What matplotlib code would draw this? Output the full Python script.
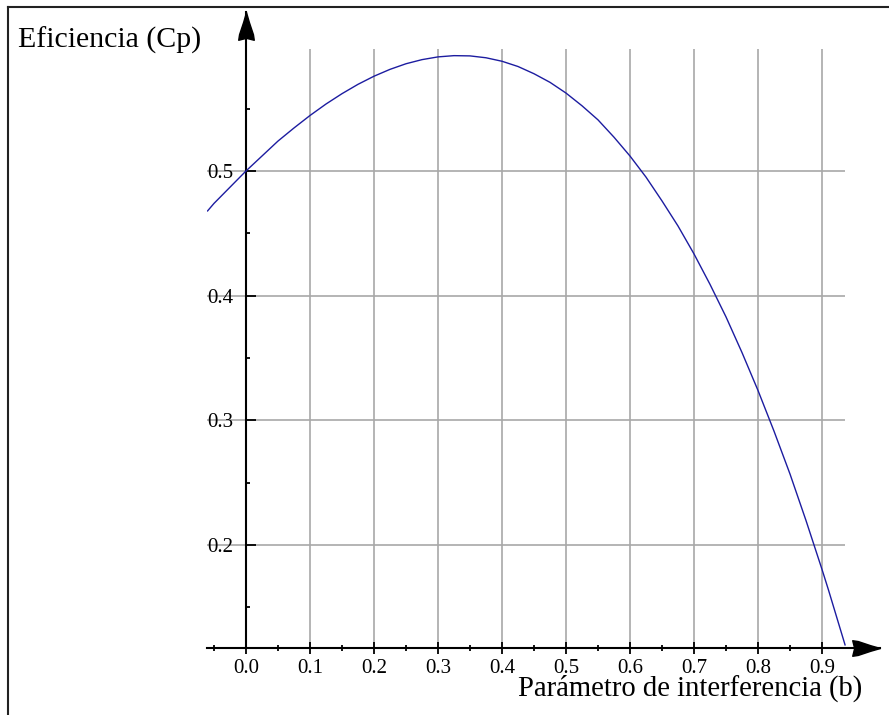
import numpy as np
import matplotlib.pyplot as plt
from matplotlib.lines import Line2D
from matplotlib.ticker import FixedLocator

# values
b_values = [-0.06, -0.05, -0.025, 0.0, 0.025, 0.05, 0.075, 0.1, 0.125, 0.15,
            0.175, 0.2, 0.225, 0.25, 0.275, 0.3, 0.325, 0.35, 0.375, 0.4,
            0.425, 0.45, 0.475, 0.5, 0.525, 0.55, 0.575, 0.6, 0.625, 0.65,
            0.675, 0.7, 0.725, 0.75, 0.775, 0.8, 0.825, 0.85, 0.875, 0.9,
            0.91, 0.936]
cp_values = [0.468, 0.474, 0.487, 0.500, 0.512, 0.524, 0.5345, 0.5445, 0.5537,
             0.562, 0.5695, 0.576, 0.5815, 0.586, 0.5893, 0.5915, 0.5925,
             0.5923, 0.5908, 0.588, 0.5838, 0.578, 0.5711, 0.5625, 0.5523,
             0.541, 0.5271, 0.512, 0.4951, 0.476, 0.4559, 0.4335, 0.4091,
             0.383, 0.3544, 0.324, 0.2914, 0.257, 0.2197, 0.1805, 0.1642,
             0.120]

x_ticks = [0.0, 0.1, 0.2, 0.3, 0.4, 0.5, 0.6, 0.7, 0.8, 0.9]
x_tick_labels = ["0.0", "0.1", "0.2", "0.3", "0.4", "0.5", "0.6", "0.7", "0.8", "0.9"]
y_ticks = [0.2, 0.3, 0.4, 0.5]
y_tick_labels = ["0.2", "0.3", "0.4", "0.5"]

y_label = "Eficiencia (Cp)"
x_label = "Parámetro de interferencia (b)"

SERIF = ["Liberation Serif", "DejaVu Serif"]
W, H = 889, 715


def main():
    fig = plt.figure(figsize=(W / 100, H / 100), dpi=100)
    ax = fig.add_axes([207 / W, (H - 648) / H, 673 / W, 636 / H])

    xmin, xmax = -0.0609, 0.9906
    ymin, ymax = 0.1175, 0.6275
    ax.set_xlim(xmin, xmax)
    ax.set_ylim(ymin, ymax)

    # grid
    grid_kw = dict(color="#a8a8a8", lw=1.2, zorder=1)
    ax.hlines(y_ticks, xmin, 0.936, **grid_kw)
    ax.vlines(x_ticks[1:], ymin, 0.598, **grid_kw)

    ax.plot(b_values, cp_values, color="#1c1ca0", lw=1.0, zorder=3)

    # axes like maple: y axis through b = 0
    for side in ("top", "right"):
        ax.spines[side].set_visible(False)
    ax.spines["left"].set_position(("data", 0))
    ax.spines["left"].set_linewidth(1.5)
    ax.spines["bottom"].set_linewidth(1.5)

    ax.xaxis.set_major_locator(FixedLocator(x_ticks))
    ax.set_xticklabels(x_tick_labels, family=SERIF, fontsize=15)
    ax.xaxis.set_minor_locator(FixedLocator([-0.05, 0.05, 0.15, 0.25, 0.35, 0.45,
                                             0.55, 0.65, 0.75, 0.85]))
    ax.yaxis.set_major_locator(FixedLocator(y_ticks))
    ax.set_yticklabels(y_tick_labels, family=SERIF, fontsize=15)
    ax.yaxis.set_minor_locator(FixedLocator([0.15, 0.25, 0.35, 0.45, 0.55]))

    ax.tick_params(axis="x", which="major", direction="inout", length=8, width=1.3, pad=4)
    ax.tick_params(axis="x", which="minor", direction="inout", length=5, width=1.3)
    ax.tick_params(axis="y", which="major", direction="in", length=7, width=1.3, pad=9)
    ax.tick_params(axis="y", which="minor", direction="in", length=3, width=1.3)

    # arrow heads
    up = [(0, 0), (-0.1, -0.35), (-0.25, -0.8), (-0.28, -1.0), (0, -0.93),
          (0.28, -1.0), (0.25, -0.8), (0.1, -0.35), (0, 0)]
    right = [(y, -x) for x, y in up]
    ax.plot([0], [ymax], marker=up, markersize=40, color="black",
            clip_on=False, zorder=5)
    ax.plot([xmax], [ymin], marker=right, markersize=40, color="black",
            clip_on=False, zorder=5)

    fig.text(18 / W, 1 - 40 / H, y_label, family=SERIF, fontsize=21.5,
             ha="left", va="center")
    fig.text(862 / W, 1 - 688 / H, x_label, family=SERIF, fontsize=20.6,
             ha="right", va="center")

    # partial frame (top and left edges)
    fig.add_artist(Line2D([8 / W, 1], [1 - 7 / H, 1 - 7 / H], color="#222222", lw=1.5))
    fig.add_artist(Line2D([8 / W, 8 / W], [0, 1 - 7 / H], color="#222222", lw=1.5))

    fig.savefig("out.png", dpi=100)


if __name__ == "__main__":
    main()
